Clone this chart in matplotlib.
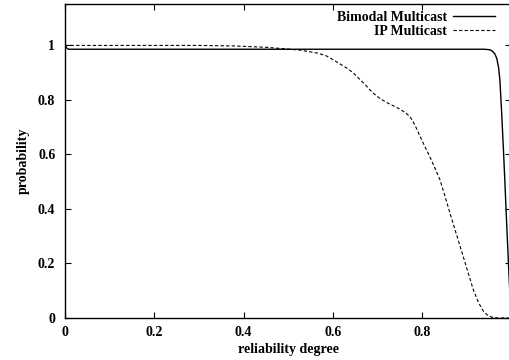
import matplotlib
matplotlib.use("Agg")
import matplotlib.pyplot as plt

# values
bimodal_x = [0.0, 0.004, 0.008, 0.5, 0.94, 0.952, 0.958, 0.963, 0.967, 0.971, 0.974,
             0.978, 0.982, 0.985, 0.988, 0.991, 0.994, 0.997, 1.0]
bimodal_y = [1.0, 0.99, 0.986, 0.986, 0.986, 0.984, 0.978, 0.968, 0.952, 0.92, 0.873,
             0.752, 0.616, 0.506, 0.39, 0.28, 0.17, 0.066, 0.0]

ip_x = [0.0, 0.1, 0.2, 0.302, 0.38, 0.452, 0.526, 0.565, 0.585, 0.601, 0.615, 0.631,
        0.646, 0.661, 0.672, 0.683, 0.694, 0.705, 0.717, 0.728, 0.740, 0.750, 0.762,
        0.773, 0.784, 0.795, 0.806, 0.817, 0.828, 0.840, 0.851, 0.862, 0.877, 0.892,
        0.904, 0.914, 0.926, 0.937, 0.946, 0.956, 0.97, 1.0]
ip_y = [1.0, 1.0, 1.0, 1.0, 0.998, 0.993, 0.983, 0.972, 0.962, 0.947, 0.933, 0.917,
        0.899, 0.874, 0.857, 0.837, 0.82, 0.806, 0.794, 0.784, 0.775, 0.766, 0.754,
        0.738, 0.707, 0.667, 0.629, 0.592, 0.552, 0.506, 0.447, 0.386, 0.305, 0.225,
        0.16, 0.106, 0.057, 0.025, 0.011, 0.003, 0.0, 0.0]

xticks = [0, 0.2, 0.4, 0.6, 0.8, 1]
xtick_labels = ["0", "0.2", "0.4", "0.6", "0.8", "1"]
yticks = [0, 0.2, 0.4, 0.6, 0.8, 1]
ytick_labels = ["0", "0.2", "0.4", "0.6", "0.8", "1"]

plt.rcParams["font.family"] = ["Liberation Serif", "DejaVu Serif"]
plt.rcParams["font.weight"] = "bold"
plt.rcParams["font.size"] = 10

fig = plt.figure(figsize=(5.1, 3.6), dpi=100)
ax = fig.add_axes([65 / 510, 42 / 360, 446.5 / 510, 314 / 360])

ax.plot(bimodal_x, bimodal_y, color="black", lw=1.0, label="Bimodal Multicast")
ax.plot(ip_x, ip_y, color="black", lw=0.8, linestyle=(0, (3, 2)), label="IP Multicast")

ax.set_xlim(0, 1)
ax.set_ylim(0, 1.152)
ax.set_xticks(xticks)
ax.set_xticklabels(xtick_labels)
ax.set_yticks(yticks)
ax.set_yticklabels(ytick_labels)
ax.tick_params(direction="in", length=4, width=0.8, top=True, right=True, pad=6)
ax.tick_params(axis="y", pad=7)
for s in ax.spines.values():
    s.set_linewidth(1.0)

ax.set_xlabel("reliability degree", fontweight="bold", labelpad=3)
ax.set_ylabel("probability", fontweight="bold", labelpad=6)

ax.legend(loc="upper right", bbox_to_anchor=(0.963, 0.978), frameon=False,
          markerfirst=False, handlelength=3.0, handletextpad=0.45,
          borderaxespad=0, borderpad=0, labelspacing=0.05)

fig.savefig("out.png", dpi=100)
